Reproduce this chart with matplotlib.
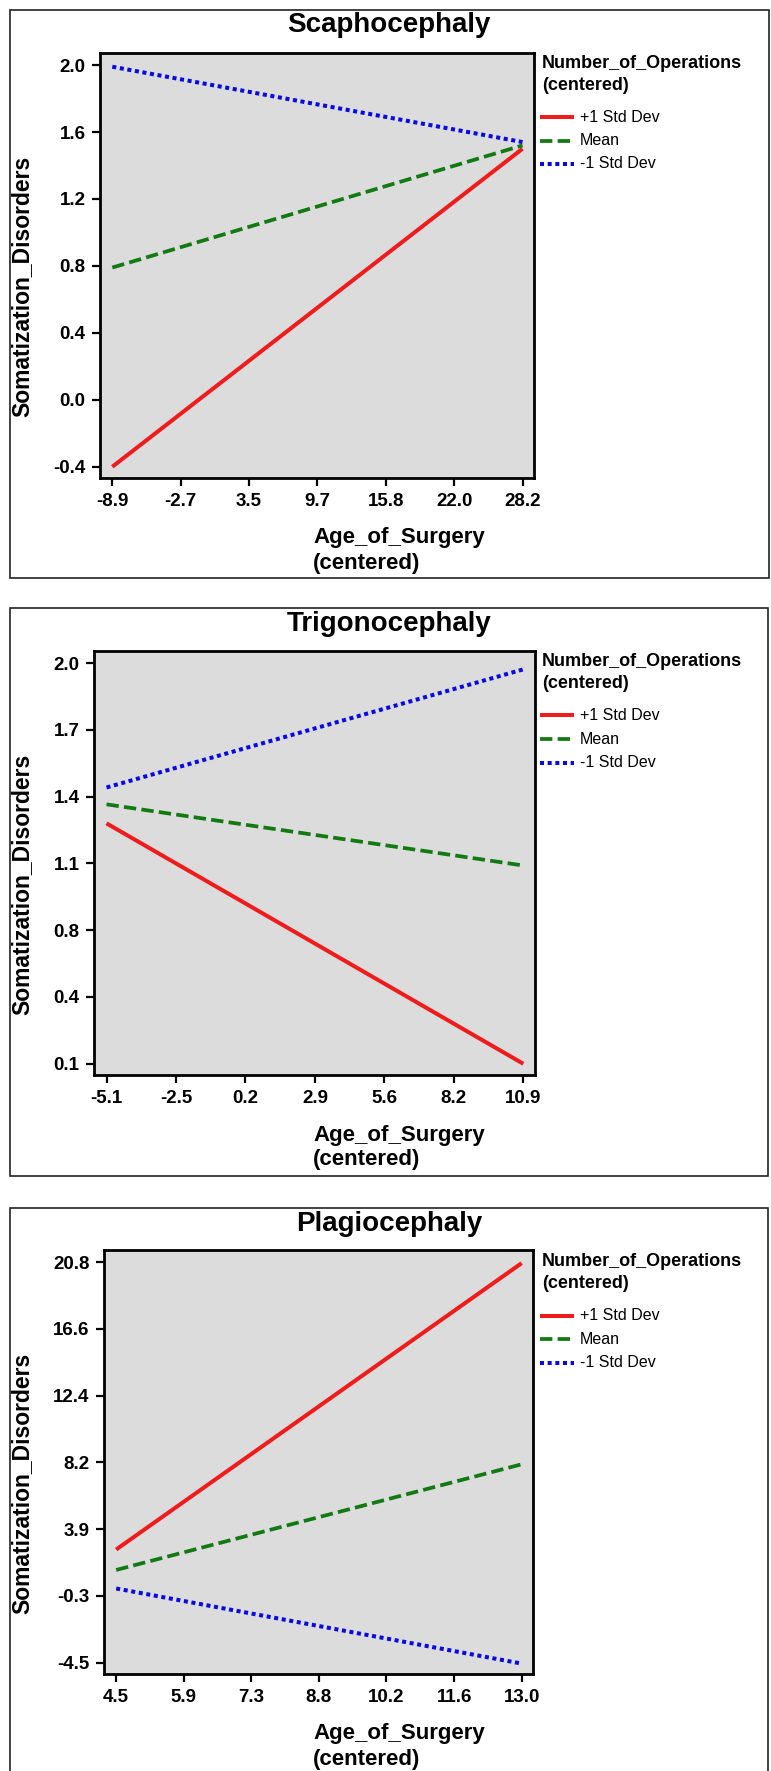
import matplotlib.pyplot as plt
from matplotlib.lines import Line2D
from matplotlib.patches import Rectangle
import numpy as np

plt.rcParams['font.family'] = ['Liberation Sans', 'DejaVu Sans']

W, H = 771, 1771

titles = ["Scaphocephaly", "Trigonocephaly", "Plagiocephaly"]
series_names = ["+1 Std Dev", "Mean", "-1 Std Dev"]

# Scaphocephaly
scaph_age = [-8.9, 28.2]
scaph_plus = [-0.40, 1.50]
scaph_mean = [0.79, 1.52]
scaph_minus = [1.99, 1.54]
scaph_xticks = ["-8.9", "-2.7", "3.5", "9.7", "15.8", "22.0", "28.2"]
scaph_yticks = ["-0.4", "0.0", "0.4", "0.8", "1.2", "1.6", "2.0"]

# Trigonocephaly
trigo_age = [-5.1, 10.9]
trigo_plus = [1.24, 0.10]
trigo_mean = [1.33, 1.04]
trigo_minus = [1.41, 1.97]
trigo_xticks = ["-5.1", "-2.5", "0.2", "2.9", "5.6", "8.2", "10.9"]
trigo_yticks = ["0.1", "0.4", "0.8", "1.1", "1.4", "1.7", "2.0"]

# Plagiocephaly
plagio_age = [4.5, 13.0]
plagio_plus = [2.65, 20.73]
plagio_mean = [1.36, 8.03]
plagio_minus = [0.19, -4.55]
plagio_xticks = ["4.5", "5.9", "7.3", "8.8", "10.2", "11.6", "13.0"]
plagio_yticks = ["-4.5", "-0.3", "3.9", "8.2", "12.4", "16.6", "20.8"]

panels = [
    (scaph_age, [scaph_plus, scaph_mean, scaph_minus], scaph_xticks, scaph_yticks),
    (trigo_age, [trigo_plus, trigo_mean, trigo_minus], trigo_xticks, trigo_yticks),
    (plagio_age, [plagio_plus, plagio_mean, plagio_minus], plagio_xticks, plagio_yticks),
]

# pixel layout: outer frame (left, top, right, bottom), plot box (left, top, right, bottom)
frames = [(9.5, 9.5, 769, 578), (9.5, 608, 768, 1176), (9.5, 1208, 768, 1790)]
boxes = [(100, 53, 534, 478), (94, 651, 535, 1075), (104, 1250, 533, 1674)]

styles = [
    dict(color='#ee1c1c', lw=2.9, linestyle='-'),
    dict(color='#137a13', lw=2.7, linestyle=(0, (3.3, 1.4))),
    dict(color='#0a0adc', lw=2.9, linestyle=(0, (1, 0.9))),
]


def fx(px):
    return px / W


def fy(py):
    return 1 - py / H


fig = plt.figure(figsize=(W / 100, H / 100), dpi=100)

for i, (age, ys, xt, yt) in enumerate(panels):
    fl, ft, fr, fb = frames[i]
    l, t, r, b = boxes[i]

    fig.add_artist(Rectangle((fx(fl), fy(fb)), (fr - fl) / W, (fb - ft) / H,
                             transform=fig.transFigure, fill=False, lw=1.2, ec='#222222'))

    ax = fig.add_axes([fx(l), fy(b), (r - l) / W, (b - t) / H])
    ax.set_facecolor('#dcdcdc')

    for y, st, name in zip(ys, styles, series_names):
        ax.plot(age, y, label=name, solid_capstyle='butt', **st)

    xtp = np.linspace(float(xt[0]), float(xt[-1]), len(xt))
    ytp = np.linspace(float(yt[0]), float(yt[-1]), len(yt))
    ax.set_xticks(xtp, labels=xt, fontweight='bold')
    ax.set_yticks(ytp, labels=yt, fontweight='bold')
    xs = xtp[-1] - xtp[0]
    ysp = ytp[-1] - ytp[0]
    ax.set_xlim(xtp[0] - 0.03 * xs, xtp[-1] + 0.028 * xs)
    ax.set_ylim(ytp[0] - 0.028 * ysp, ytp[-1] + 0.03 * ysp)
    ax.tick_params(direction='out', length=5.5, width=1.6, labelsize=13.5, pad=5)
    for s in ax.spines.values():
        s.set_linewidth(2)

    fig.text(fx(389), fy(ft + 16), titles[i], ha='center', va='center',
             fontsize=20, fontweight='bold')
    fig.text(fx(22), fy((t + b) / 2 + 21), 'Somatization_Disorders', rotation=90,
             ha='center', va='center', fontsize=16.5, fontweight='bold')
    fig.text(fx(313), fy(b + 60), 'Age_of_Surgery', ha='left', va='center',
             fontsize=16, fontweight='bold')
    fig.text(fx(313), fy(b + 85), '(centered)', ha='left', va='center',
             fontsize=16, fontweight='bold')

    # legend, laid out by hand to match the original spacing
    fig.text(fx(542), fy(ft + 53.5), 'Number_of_Operations', ha='left', va='center',
             fontsize=13, fontweight='bold')
    fig.text(fx(542), fy(ft + 75.5), '(centered)', ha='left', va='center',
             fontsize=13, fontweight='bold')
    for k, (st, name) in enumerate(zip(styles, series_names)):
        yy = ft + 107.5 + k * 23.5
        fig.add_artist(Line2D([fx(540), fx(574)], [fy(yy), fy(yy)],
                              transform=fig.transFigure, solid_capstyle='butt', **st))
        fig.text(fx(580), fy(yy), name, ha='left', va='center', fontsize=11.5)

fig.savefig('out.png', dpi=100)
